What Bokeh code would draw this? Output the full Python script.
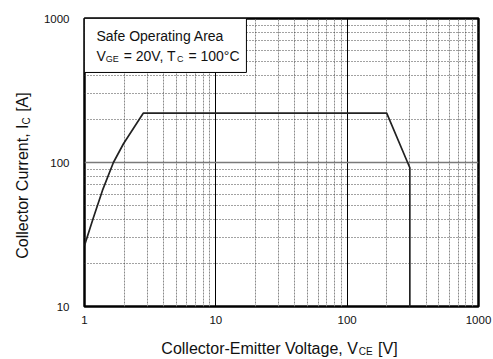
import math
from bokeh.plotting import figure
from bokeh.layouts import column, row
from bokeh.models import FixedTicker, PrintfTickFormatter, BoxAnnotation, Label
from bokeh.embed import file_html
from bokeh.resources import INLINE

# ---- data ----
vce = [1.0, 1.17, 1.37, 1.66, 1.98, 2.8, 200, 300, 300]
ic = [26.5, 41.5, 64, 100, 135, 220, 220, 92, 10]
x_ticks = [1, 10, 100, 1000]
y_ticks = [10, 100, 1000]
x_label = ["Collector-Emitter Voltage, V", "CE", " [V]"]
y_label = ["Collector Current, I", "C", " [A]"]
title_line1 = "Safe Operating Area"
title_line2 = ["V", "GE", " = 20V, T", "C", " = 100°C"]

FONT = "Liberation Sans"
W = {' ': 278, ',': 278, '-': 333, '=': 584, '[': 278, ']': 278, '°': 400,
     'A': 667, 'C': 722, 'E': 667, 'G': 778, 'I': 278, 'O': 778, 'S': 667,
     'T': 611, 'V': 667, 'a': 556, 'c': 500, 'e': 556, 'f': 278, 'g': 556,
     'i': 222, 'l': 222, 'm': 833, 'n': 556, 'o': 556, 'p': 556, 'r': 333,
     't': 278, 'u': 556}


def tw(s, size):
    return sum(W.get(ch, 556) for ch in s) * size / 1000.0


def minors(ticks):
    out = []
    for t in ticks[:-1]:
        out += [m * t for m in range(2, 10)]
    return out


def lab(fig, x, y, text, size, angle=0.0):
    stripped = text.lstrip(" ")
    adv = tw(text[:len(text) - len(stripped)], size)
    if angle:
        y = y + adv
    else:
        x = x + adv
    fig.add_layout(Label(x=x, y=y, x_units="screen", y_units="screen", text=stripped,
                         angle=angle, text_font=FONT, text_font_size=f"{size}px",
                         text_color="#111111", text_align="left",
                         text_baseline="alphabetic"))


def blank(w, h):
    f = figure(width=w, height=h, x_range=(0, w), y_range=(0, h),
               output_backend="svg", toolbar_location=None, title=None,
               min_border=0, x_axis_location=None, y_axis_location=None)
    f.grid.visible = False
    f.outline_line_color = None
    f.background_fill_color = "white"
    f.border_fill_color = "white"
    return f


p = figure(width=453, height=330, x_axis_type="log", y_axis_type="log",
           x_range=(x_ticks[0], x_ticks[-1]), y_range=(y_ticks[0], y_ticks[-1]),
           output_backend="svg", toolbar_location=None,
           min_border_left=44, min_border_right=15, min_border_top=18, min_border_bottom=24)
p.background_fill_color = "white"
p.border_fill_color = "white"
p.outline_line_color = "black"
p.outline_line_width = 2.5

p.xaxis.ticker = FixedTicker(ticks=x_ticks, minor_ticks=minors(x_ticks))
p.yaxis.ticker = FixedTicker(ticks=y_ticks, minor_ticks=minors(y_ticks))
for ax in (p.xaxis[0], p.yaxis[0]):
    ax.formatter = PrintfTickFormatter(format="%d")
    ax.axis_line_color = None
    ax.major_tick_line_color = None
    ax.minor_tick_line_color = None
    ax.major_tick_out = 0
    ax.minor_tick_out = 0
    ax.major_label_text_font = FONT
    ax.major_label_text_font_size = "11.5px"
    ax.major_label_text_color = "#111111"
p.xaxis.major_label_standoff = 9
p.yaxis.major_label_standoff = 15

p.xgrid.grid_line_color = "black"
p.xgrid.grid_line_width = 1
p.xgrid.minor_grid_line_color = "#8a8a8a"
p.xgrid.minor_grid_line_dash = "2 1"
p.xgrid.minor_grid_line_width = 1
p.ygrid.grid_line_color = "#7a7a7a"
p.ygrid.grid_line_width = 1.5
p.ygrid.minor_grid_line_color = "#444444"
p.ygrid.minor_grid_line_dash = "1 2"
p.ygrid.minor_grid_line_width = 1

p.line(vce, ic, line_color="#222222", line_width=1.7)

p.add_layout(BoxAnnotation(left=1, right=17.1, top=1000, bottom=422,
                           fill_color="white", fill_alpha=1.0,
                           line_color="black", line_width=1, line_alpha=1.0))

lab(p, 12, 271, title_line1, 14)
x0 = 12
sizes2 = [14, 9, 14, 9, 14]
shifts2 = [0, -3, 0, -3, 0]
for s, sz, sh in zip(title_line2, sizes2, shifts2):
    lab(p, x0, 251 + sh, s, sz)
    x0 += tw(s, sz) + (1 if sz == 9 else 0)

sizes = [16, 10, 16]

fx = blank(493, 29)
total = sum(tw(s, sz) for s, sz in zip(x_label, sizes)) + 1
x0 = 279 - total / 2
for s, sz in zip(x_label, sizes):
    lab(fx, x0, 11 + (-3 if sz == 10 else 0), s, sz)
    x0 += tw(s, sz) + (1 if sz == 10 else 0)

# fy's frame is aligned with the main frame (bottom at page y 306)
fy = blank(40, 330)
total = sum(tw(s, sz) for s, sz in zip(y_label, sizes)) + 1
y0 = 131 - total / 2
for s, sz in zip(y_label, sizes):
    lab(fy, 22 + (4 if sz == 10 else 0), y0, s, sz, angle=math.pi / 2)
    y0 += tw(s, sz) + (1 if sz == 10 else 0)

layout = column(row(fy, p, spacing=0), fx, spacing=0)
open("out.html", "w").write(file_html(layout, INLINE))
